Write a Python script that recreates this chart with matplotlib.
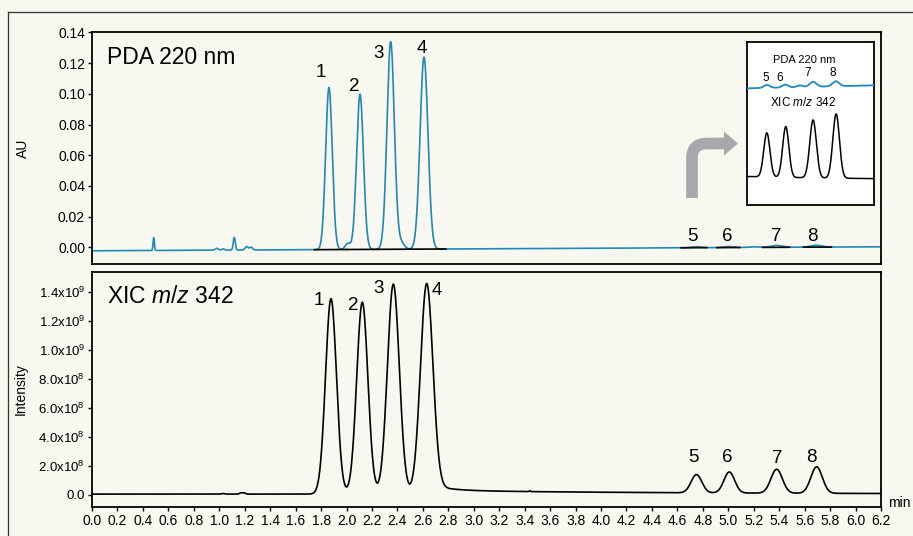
import numpy as np
import matplotlib
matplotlib.use("Agg")
import matplotlib.pyplot as plt
from matplotlib.path import Path
from matplotlib.patches import PathPatch, Polygon
from matplotlib.lines import Line2D
from matplotlib.transforms import Affine2D

plt.rcParams["font.family"] = ["Liberation Sans", "DejaVu Sans"]
plt.rcParams["mathtext.fontset"] = "custom"
plt.rcParams["mathtext.rm"] = "Liberation Sans"
plt.rcParams["mathtext.it"] = "Liberation Sans:italic"

# ---- peak tables (retention time / height / sigma)
pda_rt = [0.485, 0.98, 1.03, 1.118, 1.215, 1.25, 1.862, 2.01, 2.106, 2.347, 2.43, 2.609,
          4.75, 5.0, 5.2, 5.38, 5.69]
pda_height = [0.0085, 0.0012, 0.0008, 0.0082, 0.0022, 0.0018, 0.1056, 0.004, 0.1012, 0.1352, 0.004,
              0.1250, 0.0007, 0.0007, 0.0004, 0.0012, 0.0012]
pda_sigma = [0.005, 0.012, 0.012, 0.008, 0.012, 0.012, 0.026, 0.02, 0.027, 0.029, 0.025, 0.031,
             0.04, 0.04, 0.04, 0.045, 0.045]
pda_drift = (-0.0022, 0.0004)  # baseline at 0 and 6.2 min

xic_rt = [1.03, 1.17, 1.195, 1.878, 2.124, 2.368, 2.63, 3.44, 4.75, 5.008, 5.38, 5.694]
xic_height = [0.4e7, 0.9e7, 0.9e7, 1.35e9, 1.325e9, 1.45e9, 1.45e9, 0.6e7, 1.26e8, 1.45e8, 1.65e8, 1.83e8]
xic_sigma = [0.01, 0.01, 0.01, 0.043, 0.044, 0.047, 0.049, 0.005, 0.042, 0.042, 0.045, 0.045]
xic_offset = 0.6e7
xic_tail = [(3.0e7, 0.15), (2.5e7, 2.0)]  # amplitude, decay (min) after 2.7 min

# peak labels
top_lab = ["1", "2", "3", "4", "5", "6", "7", "8"]
top_lab_x = [1.797, 2.059, 2.255, 2.59, 4.72, 4.99, 5.38, 5.66]
top_lab_y = [0.114, 0.105, 0.1264, 0.1294, 0.0072, 0.0072, 0.0072, 0.0072]
bot_lab_x = [1.786, 2.053, 2.255, 2.713, 4.725, 4.99, 5.385, 5.655]
bot_lab_y = [1.345e9, 1.31e9, 1.426e9, 1.41e9, 2.6e8, 2.6e8, 2.55e8, 2.6e8]

# integration baselines drawn under PDA peaks
int_segments = [(1.75, 2.0), (2.0, 2.25), (2.25, 2.5), (2.5, 2.78),
                (4.63, 4.83), (4.91, 5.09), (5.27, 5.48), (5.59, 5.81)]

bot_yticks = [0, 2e8, 4e8, 6e8, 8e8, 1.0e9, 1.2e9, 1.4e9]
bot_ylabels = ["0.0", r"2.0x10$^{8}$", r"4.0x10$^{8}$", r"6.0x10$^{8}$", r"8.0x10$^{8}$",
               r"1.0x10$^{9}$", r"1.2x10$^{9}$", r"1.4x10$^{9}$"]

BLUE = "#1f8ab6"
BG = "#f8f7f0"
W, H = 913, 536

t = np.linspace(0, 6.2, 3101)


def trace(rt, height, sigma):
    y = np.zeros_like(t)
    for r, h, s in zip(rt, height, sigma):
        y += h * np.exp(-0.5 * ((t - r) / s) ** 2)
    return y


def pda_base(x):
    return pda_drift[0] + (pda_drift[1] - pda_drift[0]) * np.asarray(x) / 6.2


pda = trace(pda_rt, pda_height, pda_sigma) + pda_base(t)
xic = trace(xic_rt, xic_height, xic_sigma) + xic_offset
onset = 1 / (1 + np.exp(-(t - 2.7) / 0.03))
for amp, tau in xic_tail:
    xic += onset * amp * np.exp(-np.clip(t - 2.7, 0, None) / tau)

fig = plt.figure(figsize=(W / 100, H / 100), dpi=100, facecolor=BG)
pix = Affine2D().scale(1 / W, -1 / H).translate(0, 1) + fig.transFigure

# outer frame
fig.add_artist(Line2D([8, 8], [12, 540], color="#333333", lw=0.9, transform=pix))
fig.add_artist(Line2D([8, 920], [12, 12], color="#333333", lw=0.9, transform=pix))

ax1 = fig.add_axes([92 / W, 1 - 264.3 / H, 789 / W, 232.3 / H], facecolor=BG)
ax2 = fig.add_axes([92 / W, 1 - 507 / H, 789 / W, 235 / H], facecolor=BG)

# top: PDA
ax1.plot(t, pda, color=BLUE, lw=1.2, zorder=2)
for a, b in int_segments:
    ax1.plot([a, b], [pda_base(a), pda_base(b)], color="black", lw=1.2, zorder=3)
ax1.set_xlim(0, 6.2)
ax1.set_ylim(-0.011, 0.1403)
ax1.set_yticks(np.arange(0, 0.141, 0.02))
ax1.yaxis.set_major_formatter(plt.FormatStrFormatter("%.2f"))
ax1.set_xticks([])
ax1.set_ylabel("AU", fontsize=10)
ax1.yaxis.set_label_coords(-0.078, 0.5)
ax1.text(0.0186, 0.892, "PDA 220 nm", transform=ax1.transAxes, fontsize=16.5, va="center")
for s, x, y in zip(top_lab, top_lab_x, top_lab_y):
    ax1.text(x, y, s, fontsize=13.5, ha="center", va="center")

# bottom: XIC
ax2.plot(t, xic, color="black", lw=1.2)
ax2.set_xlim(0, 6.2)
ax2.set_ylim(-0.83e8, 1.54e9)
ax2.set_yticks(bot_yticks)
ax2.set_yticklabels(bot_ylabels)
ax2.set_xticks(np.arange(0, 6.21, 0.2))
ax2.set_xticklabels(["%.1f" % v for v in np.arange(0, 6.21, 0.2)])
ax2.set_ylabel("Intensity", fontsize=10)
ax2.yaxis.set_label_coords(-0.082, 0.5)
ax2.text(0.0186, 0.895, r"XIC $\it{m/z}$ 342", transform=ax2.transAxes, fontsize=16.5, va="center")
for s, x, y in zip(top_lab, bot_lab_x, bot_lab_y):
    ax2.text(x, y, s, fontsize=13.5, ha="center", va="center")
fig.text(888 / W, 1 - 503 / H, "min", fontsize=10, va="center")

for ax in (ax1, ax2):
    for sp in ax.spines.values():
        sp.set_linewidth(1.3)
    ax.tick_params(direction="out", length=3, width=1, labelsize=10, pad=2)
ax2.tick_params(axis="y", labelsize=9.5)

# inset zoom of peaks 5-8
axi = fig.add_axes([747 / W, 1 - 205 / H, 127 / W, 163 / H], facecolor="white")
axi.plot(t, xic, color="black", lw=1.1)
axi.set_xlim(4.48, 6.21)
axi.set_ylim(-0.65e8, 4.0e8)
axi.set_xticks([])
axi.set_yticks([])
for sp in axi.spines.values():
    sp.set_linewidth(1.3)
axb = axi.twinx()
axb.plot(t, pda, color=BLUE, lw=1.3)
axb.set_ylim(-0.0283, 0.0108)
axb.set_yticks([])
axb.axis("off")
fig.text(804 / W, 1 - 60 / H, "PDA 220 nm", fontsize=8, ha="center", va="center")
fig.text(803 / W, 1 - 103 / H, r"XIC $\it{m/z}$ 342", fontsize=8.5, ha="center", va="center")
for s, x, y in zip(["5", "6", "7", "8"], [765.7, 780, 807.7, 833], [78, 78, 72.5, 72.5]):
    fig.text(x / W, 1 - y / H, s, fontsize=8.5, ha="center", va="center")

# bent grey arrow
arrow_path = Path([(692, 198), (692, 158), (692, 143.5), (707, 143.5), (726, 143.5)],
                  [Path.MOVETO, Path.LINETO, Path.CURVE3, Path.CURVE3, Path.LINETO])
fig.add_artist(PathPatch(arrow_path, fill=False, edgecolor="#a6a8ab", lw=8.4,
                         capstyle="butt", joinstyle="miter", transform=pix))
fig.add_artist(Polygon([(724, 131.5), (738, 143.5), (724, 155.5)], closed=True,
                       facecolor="#a6a8ab", edgecolor="none", transform=pix))

fig.savefig("out.png", dpi=100, facecolor=BG)
